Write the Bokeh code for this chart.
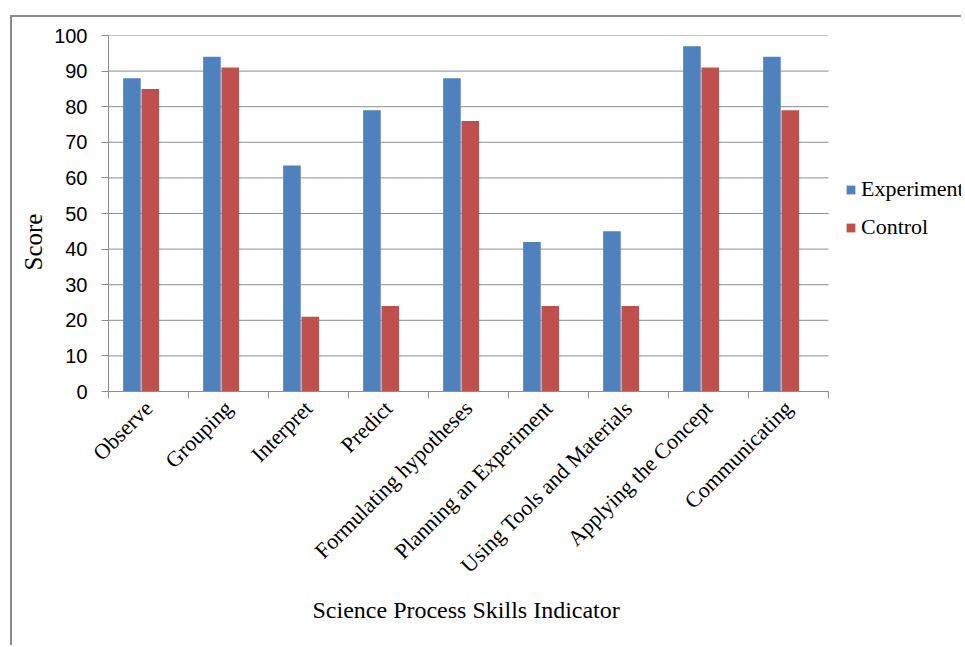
import math
from bokeh.plotting import figure
from bokeh.models import (Range1d, LinearAxis, FixedTicker, Legend, LegendItem, ColumnDataSource,
                          Title)
from bokeh.transform import dodge
from bokeh.embed import file_html
from bokeh.resources import INLINE

categories = ["Observe", "Grouping", "Interpret", "Predict", "Formulating hypotheses",
              "Planning an Experiment", "Using Tools and Materials", "Applying the Concept",
              "Communicating"]
experiment = [88, 94, 63.5, 79, 88, 42, 45, 97, 94]
control = [85, 91, 21, 24, 76, 24, 24, 91, 79]
y_ticks = [0, 10, 20, 30, 40, 50, 60, 70, 80, 90, 100]
series_names = ["Experiment", "Control"]
colors = ["#4F81BD", "#C0504D"]

n = len(categories)
idx = list(range(n))
source = ColumnDataSource(dict(idx=idx, cat=categories, experiment=experiment, control=control))

GRAY = "#8c8c8c"
SERIF = "Liberation Serif"

# the 9 categories take 720 px; the frame extends further right to hold the legend
CAT_PX = 80
FRAME_W = 853
p = figure(x_range=Range1d(0, FRAME_W / CAT_PX), y_range=Range1d(0, 100),
           frame_width=FRAME_W, frame_height=356,
           min_border_left=96, min_border_top=18, min_border_bottom=254, min_border_right=0,
           output_backend="svg", toolbar_location=None, x_axis_location=None,
           background_fill_color="white", border_fill_color="white")
p.styles = {"border-left": "2px solid #8c8c8c", "border-top": "2px solid #8c8c8c",
            "margin-left": "10px", "margin-top": "15px"}
p.outline_line_color = None
p.xgrid.visible = False
p.ygrid.visible = False

# horizontal gridlines limited to the category area
p.segment(x0=[0] * len(y_ticks), x1=[n] * len(y_ticks), y0=y_ticks, y1=y_ticks,
          line_color=GRAY, line_width=1)

r1 = p.vbar(x=dodge("idx", 0.293), top="experiment", width=0.22,
            source=source, fill_color=colors[0], line_color=None)
r2 = p.vbar(x=dodge("idx", 0.522), top="control", width=0.22,
            source=source, fill_color=colors[1], line_color=None)

# y axis
p.yaxis.ticker = FixedTicker(ticks=y_ticks)
p.yaxis.major_tick_out = 7
p.yaxis.major_tick_in = 0
p.yaxis.minor_tick_line_color = None
p.yaxis.major_tick_line_color = GRAY
p.yaxis.axis_line_color = GRAY
p.yaxis.major_label_text_font = "Liberation Sans"
p.yaxis.major_label_text_font_size = "20px"
p.yaxis.major_label_text_color = "#000000"
p.yaxis.major_label_standoff = 14

# y axis title
p.add_layout(Title(text="Score", align="left", offset=121, standoff=10,
                   text_font=SERIF, text_font_size="25px", text_font_style="normal",
                   text_color="#000000"), "left")

# x axis: tick marks at category boundaries
bounds = [i for i in range(n + 1)]
tick_axis = LinearAxis(ticker=FixedTicker(ticks=bounds), bounds=(0, n),
                       major_label_overrides={b: "" for b in bounds},
                       major_tick_out=7, major_tick_in=0, minor_tick_line_color=None,
                       major_tick_line_color=GRAY, axis_line_color=GRAY,
                       major_label_standoff=0)
p.add_layout(tick_axis, "below")

# x axis: category labels at category centres
centers = [i + 0.5 for i in idx]
cat_axis = LinearAxis(ticker=FixedTicker(ticks=centers), bounds=(0, n),
                      major_label_overrides={c: name for c, name in zip(centers, categories)},
                      major_tick_line_color=None, minor_tick_line_color=None,
                      axis_line_color=None,
                      major_label_orientation=math.pi / 4,
                      major_label_text_font=SERIF,
                      major_label_text_font_size="22px",
                      major_label_text_color="#000000",
                      major_label_standoff=0)
p.add_layout(cat_axis, "below")

# x axis title
p.add_layout(Title(text="Science Process Skills Indicator", align="left", offset=204,
                   standoff=10, text_font=SERIF, text_font_size="24px",
                   text_font_style="normal", text_color="#000000"), "below")

legend = Legend(items=[LegendItem(label=series_names[0], renderers=[r1]),
                       LegendItem(label=series_names[1], renderers=[r2])],
                location=(737, 151), border_line_color=None, background_fill_alpha=0,
                label_text_font=SERIF, label_text_font_size="22px",
                label_text_font_style="normal",
                label_text_color="#000000",
                glyph_width=11, glyph_height=11, label_standoff=5,
                spacing=12, margin=0, padding=4)
p.add_layout(legend)

open("out.html", "w").write(file_html(p, INLINE))
